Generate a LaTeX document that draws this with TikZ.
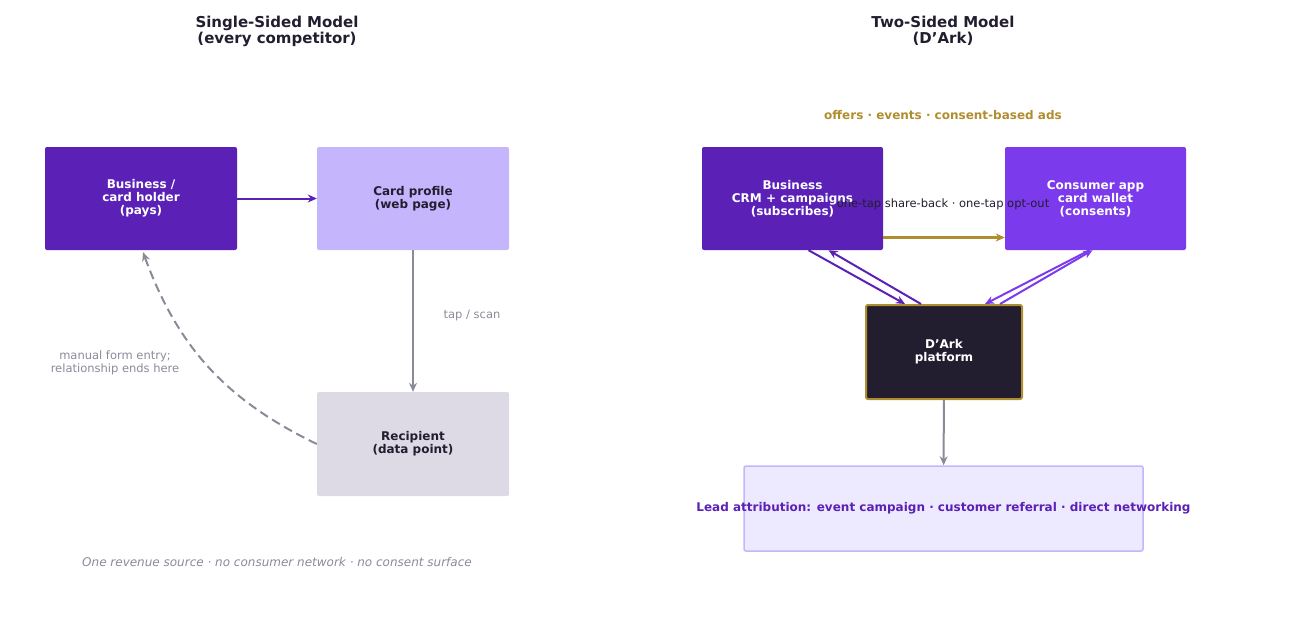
\documentclass[tikz,border=0pt]{standalone}
\usepackage{fontspec}
\setmainfont{DejaVu Sans}
\usetikzlibrary{arrows.meta}
\definecolor{deep}{HTML}{5B21B6}
\definecolor{lilac}{HTML}{C4B5FD}
\definecolor{mist}{HTML}{DDDAE6}
\definecolor{violet}{HTML}{7C3AED}
\definecolor{ink}{HTML}{231D30}
\definecolor{gold}{HTML}{B08D2E}
\definecolor{slate}{HTML}{8B8A99}
\definecolor{pale}{HTML}{EDE9FE}
\tikzset{
	box/.style={rectangle, rounded corners=2pt, align=center, font=\fontsize{12}{13}\selectfont\bfseries},
	title/.style={align=center, text=ink, font=\fontsize{15}{16}\selectfont\bfseries},
	note/.style={align=center, text=slate, font=\fontsize{11.5}{13}\selectfont},
	arr/.style={-{Stealth[length=9pt,width=8pt]}, line width=2pt}
}
\begin{document}
\begin{tikzpicture}[x=1pt, y=-1pt]

	\useasboundingbox (0,0) rectangle (1291,629);

	% left side
	\node[title] (tl) at (277,31) {Single-Sided Model\\(every competitor)};
	\node[box, fill=deep, text=white, minimum width=192pt, minimum height=103pt] (b1) at (141,198.5) {Business /\\card holder\\(pays)};
	\node[box, fill=lilac, text=ink, minimum width=192pt, minimum height=103pt] (cp) at (413,198.5) {Card profile\\(web page)};
	\node[box, fill=mist, text=ink, minimum width=192pt, minimum height=104pt] (rc) at (413,444) {Recipient\\(data point)};

	\draw[arr, deep] (b1) -- (cp);
	\draw[arr, slate] (cp) -- (rc);
	\draw[arr, slate, dashed, dash pattern=on 9pt off 5pt] (rc.west) to[bend left=22] ([xshift=2pt, yshift=-2pt]b1.south);

	\node[note] (ts) at (472,316) {tap / scan};
	\node[note] (mf) at (115,363) {manual form entry;\\relationship ends here};
	\node[note, font=\fontsize{12}{13}\selectfont\itshape] (ft) at (277,562) {One revenue source · no consumer network · no consent surface};

	% right side
	\node[title] (tr) at (943,31) {Two-Sided Model\\(D'Ark)};
	\node[box, fill=deep, text=white, minimum width=181pt, minimum height=103pt] (b2) at (792.5,198.5) {Business\\CRM + campaigns\\(subscribes)};
	\node[box, fill=violet, text=white, minimum width=181pt, minimum height=103pt] (ca) at (1095.5,198.5) {Consumer app\\card wallet\\(consents)};
	\node[box, fill=ink, text=white, draw=gold, line width=2pt, minimum width=156pt, minimum height=94pt] (dk) at (944,352) {D'Ark\\platform};
	\node[box, fill=pale, draw=lilac, line width=1.5pt, minimum width=399pt, minimum height=85pt] (la) at (943.5,508.5) {};
	\node[text=deep, font=\fontsize{12}{13}\selectfont\bfseries] (lt) at (943.5,508) {Lead attribution: event campaign · customer referral · direct networking};

	\node[text=gold, font=\fontsize{12}{13}\selectfont\bfseries] (of) at (943,115) {offers · events · consent-based ads};
	\draw[arr, gold, line width=2.5pt] ([yshift=-39pt]b2.east) -- ([yshift=-39pt]ca.west);

	\draw[arr, deep] ([xshift=16pt]b2.south) -- ([xshift=-39pt]dk.north);
	\draw[arr, deep] ([xshift=-23pt]dk.north) -- ([xshift=36pt]b2.south);
	\draw[arr, violet] ([xshift=-6pt]ca.south) -- ([xshift=41pt]dk.north);
	\draw[arr, violet] ([xshift=56pt]dk.north) -- ([xshift=-3pt, yshift=0pt]ca.south);
	\draw[arr, slate] (dk) -- (la);

	\node[text=ink, font=\fontsize{11.5}{13}\selectfont] (sb) at (943,204) {one-tap share-back · one-tap opt-out};

\end{tikzpicture}
\end{document}
